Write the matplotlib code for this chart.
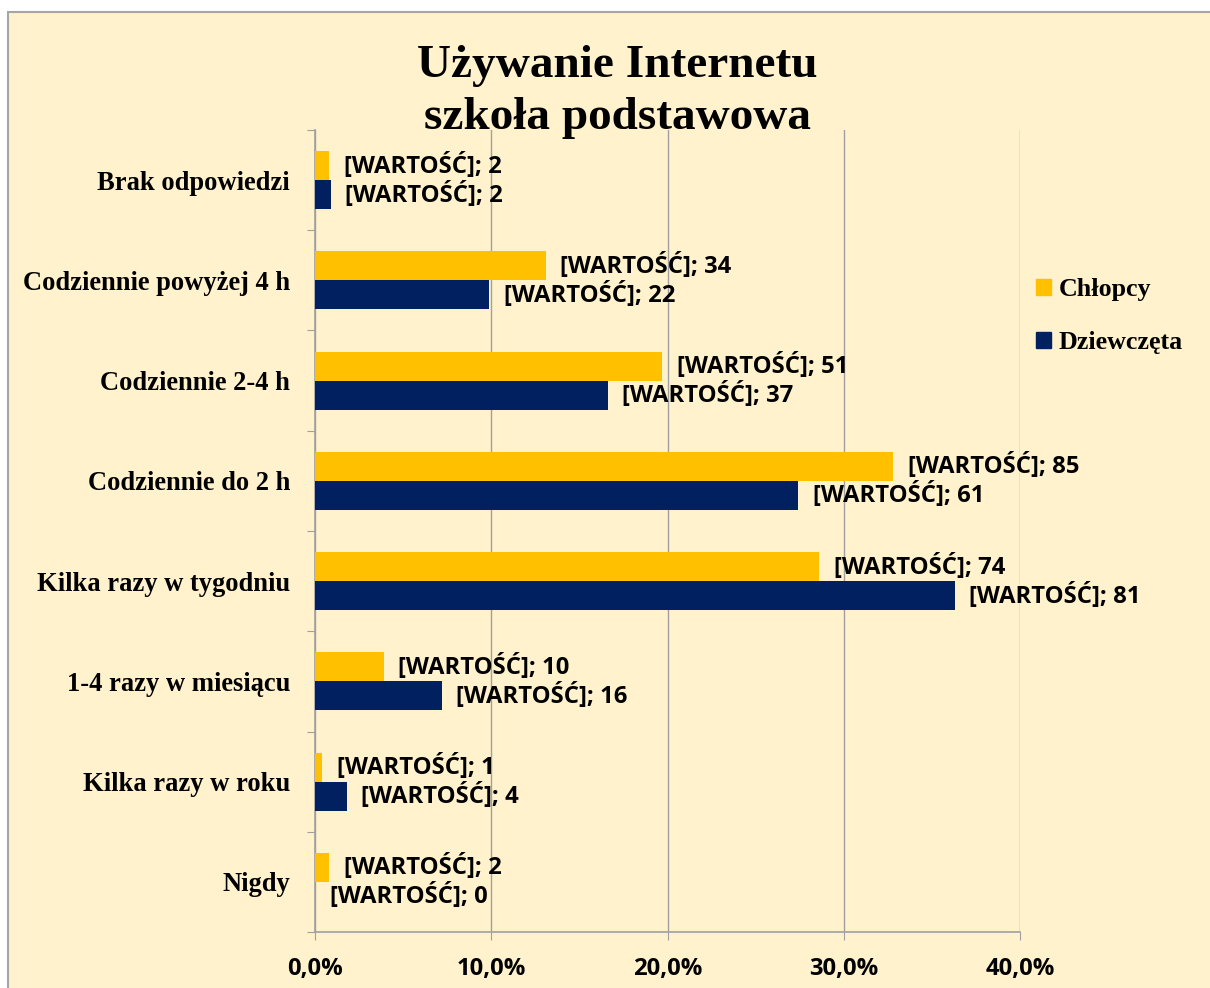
import matplotlib
matplotlib.use('Agg')
import matplotlib.pyplot as plt
from matplotlib.patches import Rectangle, Patch
from matplotlib.ticker import FuncFormatter

categories = ['Brak odpowiedzi', 'Codziennie powyżej 4 h', 'Codziennie 2-4 h',
              'Codziennie do 2 h', 'Kilka razy w tygodniu', '1-4 razy w miesiącu',
              'Kilka razy w roku', 'Nigdy']
chlopcy_pct = [0.8, 13.1, 19.7, 32.8, 28.6, 3.9, 0.4, 0.8]
dziewczeta_pct = [0.9, 9.9, 16.6, 27.4, 36.3, 7.2, 1.8, 0.0]
chlopcy_n = [2, 34, 51, 85, 74, 10, 1, 2]
dziewczeta_n = [2, 22, 37, 61, 81, 16, 4, 0]
x_ticks = [0, 10, 20, 30, 40]

BG = '#FFF2CC'
ORANGE = '#FFC000'
NAVY = '#002060'
GRID = '#A0A0A0'
SERIF = ['Liberation Serif', 'DejaVu Serif']
SANS = ['Open Sans', 'DejaVu Sans']
LBL = 17.2

W, H = 1210, 988
fig = plt.figure(figsize=(W / 100, H / 100), dpi=100)
fig.patch.set_facecolor('white')
fig.add_artist(Rectangle((8 / W, -0.05), 1.1, 1 - 12 / H + 0.05, transform=fig.transFigure,
                         facecolor=BG, edgecolor='#A6A6A6', linewidth=1.5, zorder=0))

ax = fig.add_axes([315 / W, 1 - 932 / H, (1020 - 315) / W, (932 - 130) / H])
ax.set_facecolor('none')

n = len(categories)
pos = list(range(n))
bh = 0.29
y_ch = [p - bh / 2 for p in pos]
y_dz = [p + bh / 2 for p in pos]
ax.barh(y_ch, chlopcy_pct, height=bh, color=ORANGE, label='Chłopcy', zorder=3)
ax.barh(y_dz, dziewczeta_pct, height=bh, color=NAVY, label='Dziewczęta', zorder=3)

for yy, v, c in zip(y_ch, chlopcy_pct, chlopcy_n):
    ax.annotate(f'[WARTOŚĆ]; {c}', (v, yy), xytext=(10.5, 0), textcoords='offset points',
                va='center', ha='left', fontsize=LBL, fontweight='bold', family=SANS)
for yy, v, c in zip(y_dz, dziewczeta_pct, dziewczeta_n):
    ax.annotate(f'[WARTOŚĆ]; {c}', (v, yy), xytext=(10.5, 0), textcoords='offset points',
                va='center', ha='left', fontsize=LBL, fontweight='bold', family=SANS)

ax.set_ylim(n - 0.5, -0.5)
ax.set_xlim(0, 40)
ax.set_xticks(x_ticks)
ax.xaxis.set_major_formatter(FuncFormatter(lambda v, p: f'{v:.1f}%'.replace('.', ',')))
for lab in ax.get_xticklabels():
    lab.set_fontweight('bold')
    lab.set_family(SANS)
    lab.set_fontsize(LBL)
ax.tick_params(axis='x', length=6, color=GRID, pad=12)

ax.set_yticks([p + 0.5 for p in range(-1, n)], minor=False)
ax.set_yticklabels([])
ax.set_yticks(pos, minor=True)
ax.set_yticklabels(categories, minor=True, fontsize=19.1, fontweight='bold')
for lab in ax.get_yticklabels(minor=True):
    lab.set_family(SERIF)
ax.tick_params(axis='y', which='major', length=6, color=GRID)
ax.tick_params(axis='y', which='minor', length=0, pad=18)

ax.grid(axis='x', color=GRID, linewidth=1, zorder=0)
for s in ['top', 'right']:
    ax.spines[s].set_visible(False)
for s in ['left', 'bottom']:
    ax.spines[s].set_color(GRID)
    ax.spines[s].set_linewidth(1.2)

leg = fig.legend(handles=[Patch(color=ORANGE, label='Chłopcy'), Patch(color=NAVY, label='Dziewczęta')],
                 loc='upper left', bbox_to_anchor=(1013 / W, 1 - 255 / H), frameon=False,
                 prop={'family': SERIF, 'weight': 'bold', 'size': 18.7},
                 handlelength=0.55, handleheight=0.55, handletextpad=0.3, labelspacing=1.15)

fig.text(617 / W, 1 - 92 / H, 'Używanie Internetu\nszkoła podstawowa', ha='center', va='center',
         fontsize=34, fontweight='bold', family=SERIF, linespacing=1.29, zorder=5)

fig.savefig('out.png', dpi=100, facecolor=fig.get_facecolor())
